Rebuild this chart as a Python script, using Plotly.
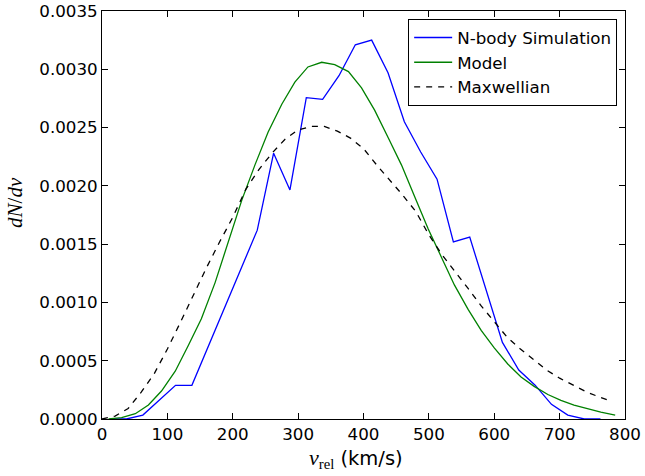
import plotly.graph_objects as go

# N-body simulation histogram (bin centres, km/s) and values
nbody_v = [12.5, 37.5, 62.5, 87.5, 112.5, 137.5, 162.5, 187.5, 212.5, 237.5,
           262.5, 287.5, 312.5, 337.5, 362.5, 387.5, 412.5, 437.5, 462.5, 487.5,
           512.5, 537.5, 562.5, 587.5, 612.5, 637.5, 662.5, 687.5, 712.5, 737.5, 762.5]
nbody_val = [0.0, 0.0, 0.000034, 0.00016, 0.000289, 0.000289, 0.00062, 0.000955, 0.00129, 0.00162,
             0.00228, 0.001965, 0.002757, 0.002742, 0.002945, 0.00321, 0.00325, 0.00297, 0.00255, 0.00229,
             0.002057, 0.001519, 0.00156, 0.00111, 0.000657, 0.00042, 0.00029, 0.000126, 0.000034, 0.0, 0.0]

# Model curve
model_v = [10, 30, 51, 71, 91, 112, 132, 152, 173, 193, 214, 234, 254, 275, 295, 315, 336, 356, 377,
           397, 417, 438, 458, 478, 499, 519, 539, 560, 580, 600, 621, 641, 661, 682, 702, 722, 743, 763, 785]
model_val = [0.000001, 0.000012, 0.000045, 0.00012, 0.00024, 0.00041, 0.00063, 0.00086, 0.00117, 0.00151,
             0.00188, 0.00218, 0.00246, 0.00270, 0.00289, 0.00302, 0.00306, 0.00304, 0.00298,
             0.00284, 0.00265, 0.00241, 0.00218, 0.00191, 0.00163, 0.00139, 0.00115, 0.00094, 0.00076,
             0.00061, 0.00047, 0.00036, 0.00028, 0.00021, 0.00016, 0.00012, 0.000085, 0.000058, 0.000034]

# Maxwellian curve
maxw_v = [0, 20, 40, 60, 80, 100, 120, 140, 160, 180, 200, 220, 240, 260, 280, 300, 320, 340, 360, 380,
          400, 420, 440, 460, 480, 500, 520, 540, 560, 580, 600, 620, 640, 660, 680, 700, 720, 740, 760, 780]
maxw_val = [0.0, 0.000025, 0.00009, 0.00023, 0.00039, 0.0006, 0.00083, 0.00107, 0.0013, 0.00152,
            0.00173, 0.00197, 0.00214, 0.00228, 0.0024, 0.00248, 0.00251, 0.00251, 0.00247, 0.00241,
            0.00232, 0.00218, 0.00205, 0.00192, 0.00178, 0.00158, 0.00141, 0.00127, 0.00112, 0.00097,
            0.00083, 0.0007, 0.0006, 0.00051, 0.00042, 0.00035, 0.00029, 0.000235, 0.00019, 0.00015]

x_ticks = [0, 100, 200, 300, 400, 500, 600, 700, 800]
y_ticks = [0.0, 0.0005, 0.0010, 0.0015, 0.0020, 0.0025, 0.0030, 0.0035]

fig = go.Figure()
fig.add_trace(go.Scatter(x=nbody_v, y=nbody_val, mode="lines", name="N-body Simulation",
                         line=dict(color="#0000ff", width=1.3)))
fig.add_trace(go.Scatter(x=model_v, y=model_val, mode="lines", name="Model",
                         line=dict(color="#008000", width=1.3)))
fig.add_trace(go.Scatter(x=maxw_v, y=maxw_val, mode="lines", name="Maxwellian",
                         line=dict(color="black", width=1.3, dash="6px,6px")))

axis_common = dict(showgrid=False, zeroline=False, showline=True, linecolor="black", linewidth=1,
                   mirror="ticks", ticks="inside", ticklen=6, tickwidth=1, tickcolor="black",
                   automargin=False, ticklabeloverflow="allow",
                   tickfont=dict(family="DejaVu Sans", size=16.7, color="black"))

fig.update_layout(
    width=645, height=476,
    margin=dict(l=102, r=20, t=11, b=57),
    paper_bgcolor="white", plot_bgcolor="white",
    font=dict(family="DejaVu Sans", color="black"),
    xaxis=dict(range=[0, 800], tickvals=x_ticks, ticktext=[str(v) for v in x_ticks], **axis_common),
    yaxis=dict(range=[0, 0.0035], tickvals=y_ticks, ticktext=[f"{v:.4f}" for v in y_ticks],
               **axis_common),
    annotations=[
        dict(text="<i>dN</i>/<i>dv</i>", textangle=-90, xref="paper", yref="paper",
             x=-0.166, y=0.53, xanchor="center", yanchor="middle", showarrow=False,
             font=dict(size=21, family="Liberation Serif", color="black")),
        dict(text='<span style="font-family:Liberation Serif;font-size:22px"><i>v</i></span>'
                  '<span style="font-family:Liberation Serif;font-size:21px"><sub>rel</sub></span>'
                  ' (km/s)',
             xref="paper", yref="paper", x=0.4857, y=-0.096, xanchor="center", yanchor="middle",
             showarrow=False, font=dict(size=19.5, family="DejaVu Sans", color="black")),
    ],
    legend=dict(x=0.985, y=0.98, xanchor="right", yanchor="top", bgcolor="white",
                bordercolor="black", borderwidth=1, font=dict(size=16.7, family="DejaVu Sans"),
                tracegroupgap=0, itemwidth=38),
    showlegend=True,
)

fig.write_html("out.html", config={"displayModeBar": False},
               post_script="document.body.style.margin='0px';")
